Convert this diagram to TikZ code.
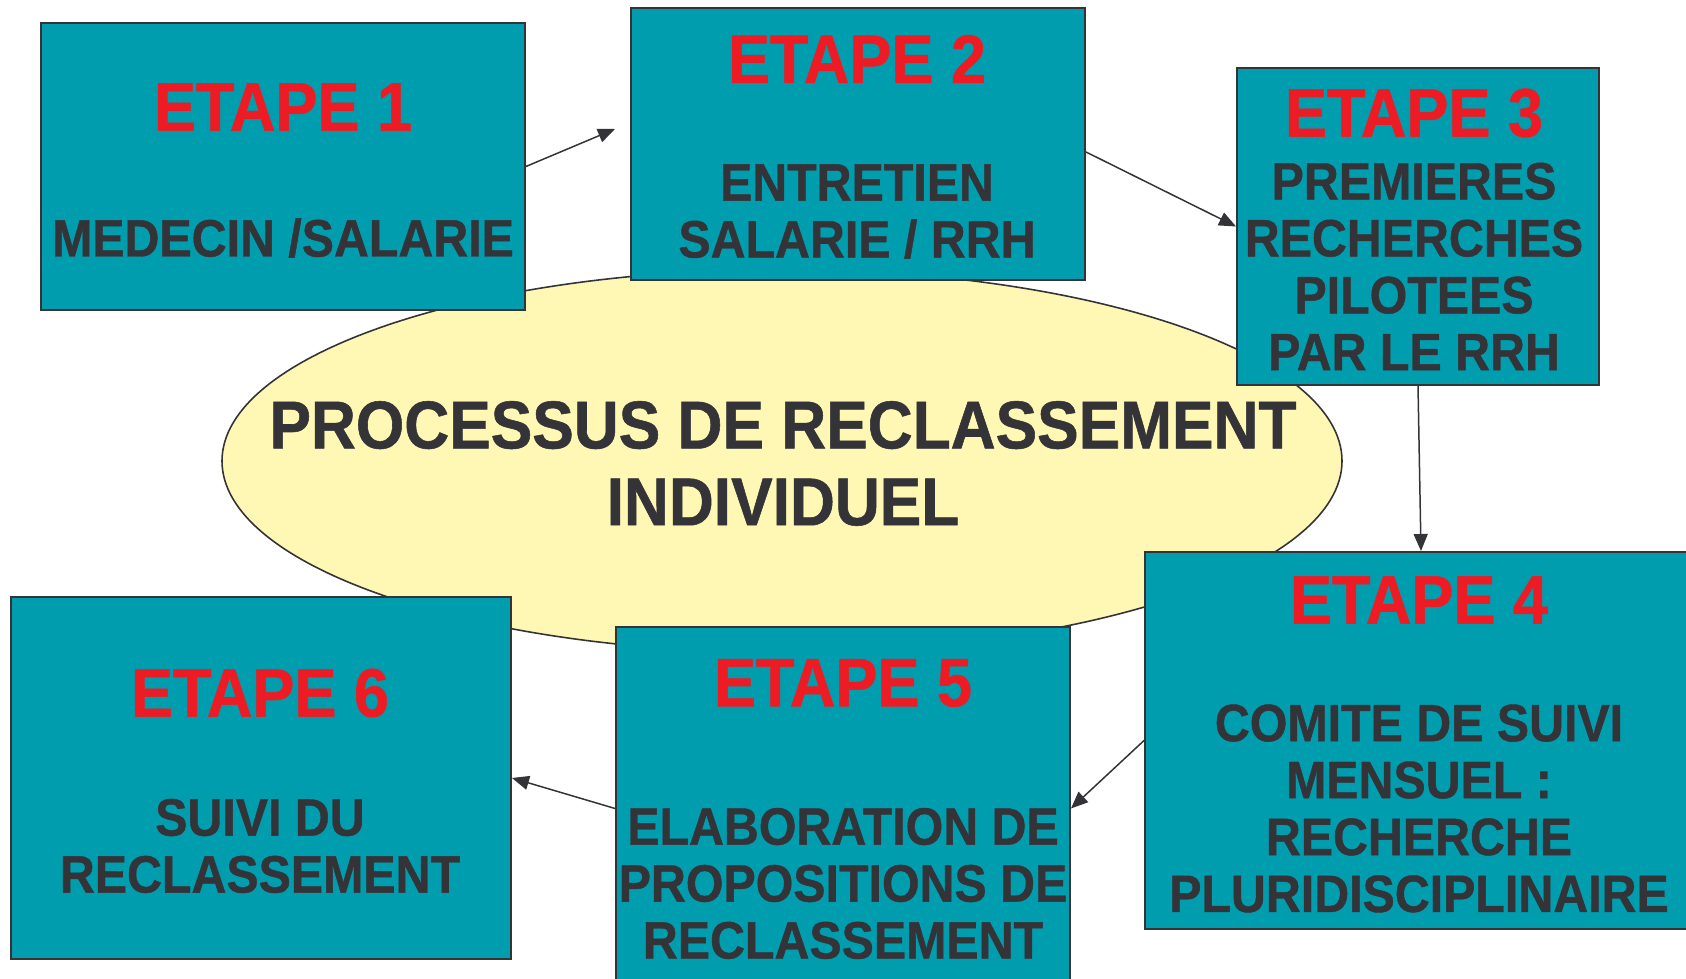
\documentclass[tikz,border=0pt]{standalone}
\usepackage{fontspec}
\setmainfont{Liberation Sans}[FakeStretch=0.92, BoldFeatures={FakeBold=0.8}]
\usepackage{tikz}
\usetikzlibrary{shapes.geometric,arrows.meta,positioning,calc}
\definecolor{boxteal}{RGB}{0,157,174}
\definecolor{steptitle}{RGB}{237,28,36}
\definecolor{darktext}{RGB}{51,51,56}
\definecolor{paleyellow}{RGB}{255,247,180}

\begin{document}
\begin{tikzpicture}[
    stepbox/.style={draw=darktext, line width=1.1pt, fill=boxteal, inner sep=0pt},
    steptitle/.style={text=steptitle, font=\fontsize{39}{43}\selectfont\bfseries, inner sep=0pt},
    stepbody/.style={text=darktext, font=\fontsize{29.9}{32.4}\selectfont\bfseries, align=center, inner sep=0pt},
    link/.style={draw=darktext, line width=0.85pt, -{Triangle[length=0.34cm,width=0.28cm]}}
]
    \useasboundingbox (0,0) rectangle (33.72,19.58);

    % Ellipse
    \node[draw=darktext, line width=0.9pt, fill=paleyellow, ellipse, minimum width=22.4cm, minimum height=7.66cm] (proc) at (15.64,10.36) {};
    \node[text=darktext, font=\fontsize{38.5}{43.7}\selectfont\bfseries, align=center] (proctext) at (15.66,10.31) {PROCESSUS DE RECLASSEMENT\\INDIVIDUEL};

    % Blocks
    \foreach \i/\x/\y/\w/\h in {1/5.66/16.25/9.68/5.74, 2/17.16/16.70/9.08/5.44, 3/28.36/15.05/7.24/6.34,
                                4/28.35/4.77/10.9/7.54, 5/16.86/3.41/9.08/7.26, 6/5.22/4.02/10.0/7.24} {
        \node[stepbox, minimum width=\w cm, minimum height=\h cm] (e\i) at (\x,\y) {};
    }

    % Titles
    \foreach \i/\x/\y in {1/5.66/17.44, 2/17.14/18.40, 3/28.28/17.32, 4/28.38/7.58, 5/16.86/5.92, 6/5.2/5.72} {
        \node[steptitle] (t\i) at (\x,\y) {ETAPE \i};
    }

    % Texts
    \node[stepbody] (b1) at (5.66,14.82) {MEDECIN /SALARIE};
    \node[stepbody] (b2) at (17.14,15.35) {ENTRETIEN\\SALARIE / RRH};
    \node[stepbody] (b3) at (28.28,14.25) {PREMIERES\\RECHERCHES\\PILOTEES\\PAR LE RRH};
    \node[stepbody] (b4) at (28.38,3.41) {COMITE DE SUIVI\\MENSUEL :\\RECHERCHE\\PLURIDISCIPLINAIRE};
    \node[stepbody] (b5) at (16.86,1.91) {ELABORATION DE\\PROPOSITIONS DE\\RECLASSEMENT};
    \node[stepbody] (b6) at (5.2,2.66) {SUIVI DU\\RECLASSEMENT};

    % Arrows
    \coordinate (a12) at (12.3,17.0);
    \draw[link] (e1.east) -- (a12);
    \draw[link] ([yshift=-0.16cm]e2.east) -- (e3.west);
    \draw[link] (e3.south) -- ([xshift=0.07cm]e4.north);
    \draw[link] (e4.west) -- (e5.east);
    \draw[link] (e5.west) -- (e6.east);
\end{tikzpicture}
\end{document}
